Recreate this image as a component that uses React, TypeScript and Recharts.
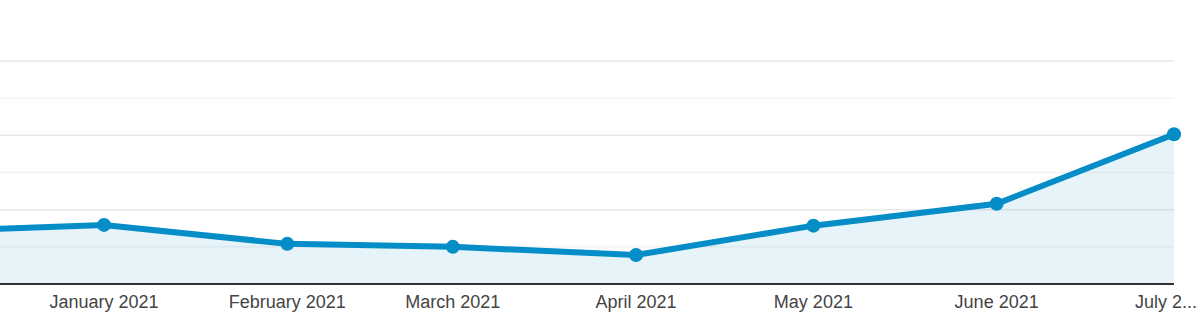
import React from 'react';
import { AreaChart, Area, XAxis, YAxis, CartesianGrid } from 'recharts';

// Days counted from 1 December 2020
const monthNames = ['December 2020', 'January 2021', 'February 2021', 'March 2021', 'April 2021', 'May 2021', 'June 2021', 'July 2021'];
const dayIndex = [0, 31, 62, 90, 121, 151, 182, 212];
const sessions = [141, 159, 108, 100, 78, 157, 216, 403];

const tickDays = [31, 62, 90, 121, 151, 182, 212];
const tickLabels = ['January 2021', 'February 2021', 'March 2021', 'April 2021', 'May 2021', 'June 2021', 'July 2...'];

const minorGrid = [100, 300, 500];
const majorGrid = [200, 400, 600];

const data = dayIndex.map((d, i) => ({ day: d, month: monthNames[i], value: sessions[i] }));

const Tick = (props: any) => {
  const { x, y, payload, index } = props;
  const last = index === tickDays.length - 1;
  const label = tickLabels[tickDays.indexOf(payload.value)] ?? '';
  return (
    <text
      x={last ? x + 23 : x}
      y={y}
      dy={16}
      textAnchor={last ? 'end' : 'middle'}
      fontFamily="'Liberation Sans', Arial, sans-serif"
      fontSize={18}
      fill="#444"
    >
      {label}
    </text>
  );
};

export default function App() {
  return (
    <div style={{ position: 'fixed', left: 0, top: 0, width: 1198, height: 316, background: '#fff' }}>
      <AreaChart width={1198} height={316} data={data} margin={{ top: 61, right: 24, bottom: 0, left: 0 }}>
        <CartesianGrid vertical={false} horizontalValues={minorGrid} stroke="#f3f3f3" strokeWidth={1.5} />
        <CartesianGrid vertical={false} horizontalValues={majorGrid} stroke="#e9e9e9" strokeWidth={1.5} />
        <XAxis
          dataKey="day"
          type="number"
          domain={[13.4, 212]}
          allowDataOverflow
          ticks={tickDays}
          interval={0}
          tick={<Tick />}
          tickLine={false}
          axisLine={{ stroke: '#333', strokeWidth: 2 }}
          height={32}
        />
        <YAxis hide domain={[0, 600]} allowDataOverflow />
        <Area
          type="linear"
          dataKey="value"
          stroke="#058dc7"
          strokeWidth={6}
          fill="#058dc7"
          fillOpacity={0.1}
          dot={{ r: 7, fill: '#058dc7', fillOpacity: 1, stroke: 'none', clipDot: false }}
          activeDot={false}
          isAnimationActive={false}
        />
      </AreaChart>
    </div>
  );
}
